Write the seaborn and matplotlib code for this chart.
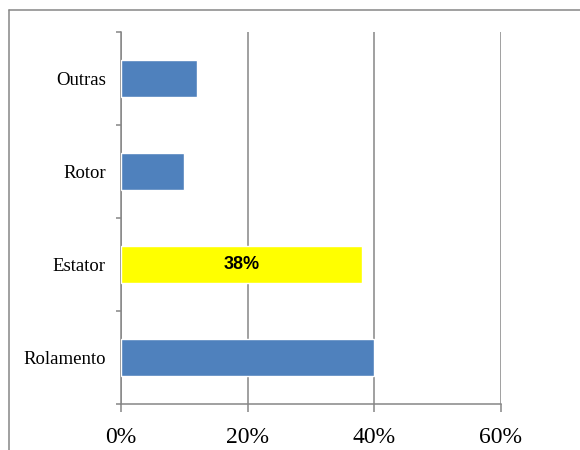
import matplotlib
matplotlib.use("Agg")
import matplotlib.pyplot as plt
from matplotlib.lines import Line2D
from matplotlib.ticker import FixedLocator, PercentFormatter
import seaborn as sns

# Failure sources and their share
categories = ["Outras", "Rotor", "Estator", "Rolamento"]
shares = [0.12, 0.10, 0.38, 0.40]
bar_colors = ["#4F81BD", "#4F81BD", "#FFFF00", "#4F81BD"]
highlight = "Estator"
x_ticks = [0.0, 0.2, 0.4, 0.6]

sns.set_theme(style="white")
plt.rcParams["font.family"] = ["Liberation Serif", "DejaVu Serif"]

grey = "#868686"

fig = plt.figure(figsize=(5.8, 4.5), dpi=100)
ax = fig.add_axes([121 / 580, 1 - 404 / 450, (501 - 121) / 580, (404 - 32) / 450])

sns.barplot(
    x=shares, y=categories, hue=categories, palette=bar_colors,
    orient="h", width=0.4, saturation=1, legend=False, ax=ax, zorder=3,
)

ax.set_xlim(0, 0.6)
ax.set_ylim(len(categories) - 0.5, -0.5)
ax.set_xlabel("")
ax.set_ylabel("")

# vertical gridlines at the percentage ticks
ax.set_xticks(x_ticks)
ax.xaxis.set_major_formatter(PercentFormatter(xmax=1, decimals=0))
ax.grid(axis="x", color=grey, linewidth=1.1, zorder=0)
ax.grid(axis="y", visible=False)

for side in ("top", "right"):
    ax.spines[side].set_visible(False)
for side in ("left", "bottom"):
    ax.spines[side].set_color(grey)
    ax.spines[side].set_linewidth(1.1)

ax.tick_params(axis="x", bottom=True, direction="out", length=5.5, width=1.1,
               color=grey, labelsize=17, pad=11, labelcolor="black")
# category labels centred, tick marks on the boundaries between categories
ax.yaxis.set_minor_locator(FixedLocator([i - 0.5 for i in range(len(categories) + 1)]))
ax.tick_params(axis="y", which="major", left=False, length=0, labelsize=13.5,
               pad=11, labelcolor="black")
ax.tick_params(axis="y", which="minor", left=True, direction="out", length=3.8,
               width=1.1, color=grey)

# value label inside the highlighted bar
idx = categories.index(highlight)
for container in ax.containers:
    if len(container) and abs(container[0].get_width() - shares[idx]) < 1e-9 \
            and abs(container[0].get_y() + container[0].get_height() / 2 - idx) < 1e-9:
        ax.bar_label(container, labels=[f"{shares[idx]:.0%}"], label_type="center",
                     family=["Liberation Sans", "DejaVu Sans"], fontweight="bold",
                     fontsize=13, color="black")

# chart-area frame
fig.add_artist(Line2D([9 / 580, 1.0], [1 - 10 / 450, 1 - 10 / 450], color=grey,
                      linewidth=1.1, transform=fig.transFigure))
fig.add_artist(Line2D([9 / 580, 9 / 580], [0.0, 1 - 10 / 450], color=grey,
                      linewidth=1.1, transform=fig.transFigure))

fig.savefig("out.png", dpi=100)
